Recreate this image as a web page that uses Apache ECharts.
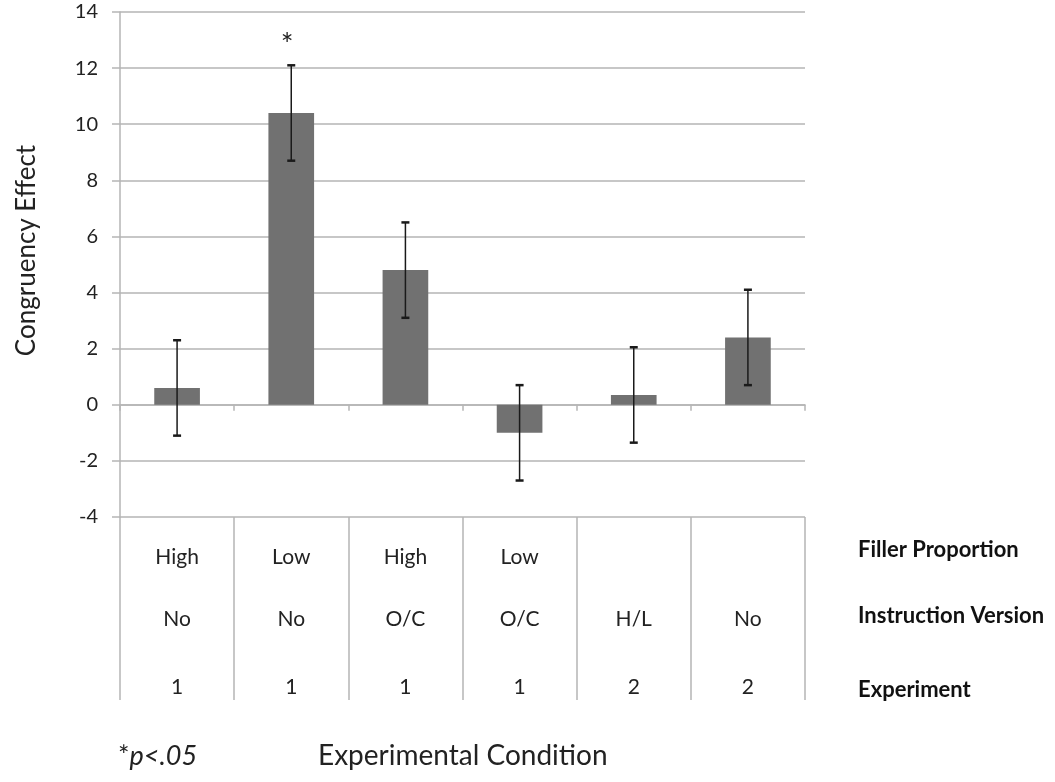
<!DOCTYPE html>
<html><head><meta charset="utf-8">
<script src="https://cdn.jsdelivr.net/npm/echarts@6/dist/echarts.min.js"></script>
<style>html,body{margin:0;padding:0;background:#fff}#c{width:1055px;height:782px}</style>
</head><body><div id="c"></div>
<script>
var categories = ['C1','C2','C3','C4','C5','C6'];
var fillerProportion = ['High','Low','High','Low','',''];
var instructionVersion = ['No','No','O/C','O/C','H/L','No'];
var experiment = ['1','1','1','1','2','2'];
var effect = [0.6, 10.4, 4.8, -1.0, 0.35, 2.4];
var errorSize = [1.7, 1.7, 1.7, 1.7, 1.7, 1.7];
var significance = ['', '*', '', '', '', ''];
var yTicks = {min: -4, max: 14, interval: 2};
var rowLabels = ['Filler Proportion', 'Instruction Version', 'Experiment'];

var FONT = 'Lato, "Open Sans", sans-serif';
var chart = echarts.init(document.getElementById('c'));

var errData = effect.map(function(v, i){ return [i, v - errorSize[i], v + errorSize[i], significance[i]]; });

function tableAxis(labels, margin, showTicks){
  return {
    type: 'category', data: categories, position: 'bottom', gridIndex: 0,
    axisLine: {show: false}, splitLine: {show: false},
    axisTick: {show: showTicks, length: 183, lineStyle: {color: '#b5b5b5', width: 1.5}, alignWithLabel: false},
    axisLabel: {show: true, margin: margin, fontFamily: FONT, fontSize: 21, color: '#222',
      formatter: function(val, idx){ return labels[idx]; }}
  };
}

var option = {
  animation: false,
  grid: {left: 120, right: 250, top: 12, bottom: 265},
  xAxis: [
    {type: 'category', data: categories,
     axisLine: {show: true, onZero: true, lineStyle: {color: '#b5b5b5', width: 1.5}},
     axisTick: {show: true, length: 6, lineStyle: {color: '#b5b5b5', width: 1.5}},
     axisLabel: {show: false}, splitLine: {show: false}},
    tableAxis(fillerProportion, 30, true),
    tableAxis(instructionVersion, 92, false),
    tableAxis(experiment, 160, false)
  ],
  yAxis: {
    type: 'value', min: yTicks.min, max: yTicks.max, interval: yTicks.interval,
    name: 'Congruency Effect', nameLocation: 'middle', nameGap: 80,
    nameTextStyle: {fontFamily: FONT, fontSize: 26, color: '#222', padding: [0, 0, 0, 28]},
    axisLine: {show: true, lineStyle: {color: '#b5b5b5', width: 1.5}},
    axisTick: {show: true, length: 8, lineStyle: {color: '#b5b5b5', width: 1.5}},
    axisLabel: {fontFamily: FONT, fontSize: 20, color: '#222', margin: 22},
    splitLine: {lineStyle: {color: '#b5b5b5', width: 1.5}}
  },
  series: [
    {type: 'bar', data: effect, barWidth: '40%', itemStyle: {color: '#717171'}, xAxisIndex: 0},
    {type: 'custom', xAxisIndex: 0, data: errData, z: 10,
     renderItem: function(params, api){
       var x = api.value(0);
       var lo = api.coord([x, api.value(1)]);
       var hi = api.coord([x, api.value(2)]);
       var cap = 4;
       var st = {stroke: '#1a1a1a', lineWidth: 1.5};
       var children = [
         {type: 'line', shape: {x1: lo[0], y1: lo[1], x2: hi[0], y2: hi[1]}, style: st},
         {type: 'line', shape: {x1: lo[0]-cap, y1: lo[1], x2: lo[0]+cap, y2: lo[1]}, style: {stroke: '#1a1a1a', lineWidth: 2.5}},
         {type: 'line', shape: {x1: hi[0]-cap, y1: hi[1], x2: hi[0]+cap, y2: hi[1]}, style: {stroke: '#1a1a1a', lineWidth: 2.5}}
       ];
       var s = api.value(3);
       if (s) {
         children.push({type: 'text', style: {text: s, x: hi[0] - 4, y: hi[1] - 20, align: 'center', verticalAlign: 'middle',
           fontFamily: FONT, fontSize: 30, fill: '#222'}});
       }
       return {type: 'group', children: children};
     }}
  ],
  graphic: [
    {type: 'text', left: 858, top: 539, style: {text: rowLabels[0], fontFamily: FONT, fontWeight: 'bold', fontSize: 22, fill: '#111'}},
    {type: 'text', left: 858, top: 605, style: {text: rowLabels[1], fontFamily: FONT, fontWeight: 'bold', fontSize: 22, fill: '#111'}},
    {type: 'text', left: 858, top: 679, style: {text: rowLabels[2], fontFamily: FONT, fontWeight: 'bold', fontSize: 22, fill: '#111'}},
    {type: 'text', left: 118, top: 743, style: {text: '{a|*}{b|p<.05}', fontFamily: FONT, fontSize: 27, fill: '#222',
      rich: {a: {fontFamily: FONT, fontSize: 27, color: '#222'}, b: {fontFamily: FONT, fontSize: 27, fontStyle: 'italic', color: '#222'}}}},
    {type: 'text', left: 318, top: 742, style: {text: 'Experimental Condition', fontFamily: FONT, fontSize: 28, fill: '#222'}}
  ]
};
chart.setOption(option);
</script>
</body></html>
